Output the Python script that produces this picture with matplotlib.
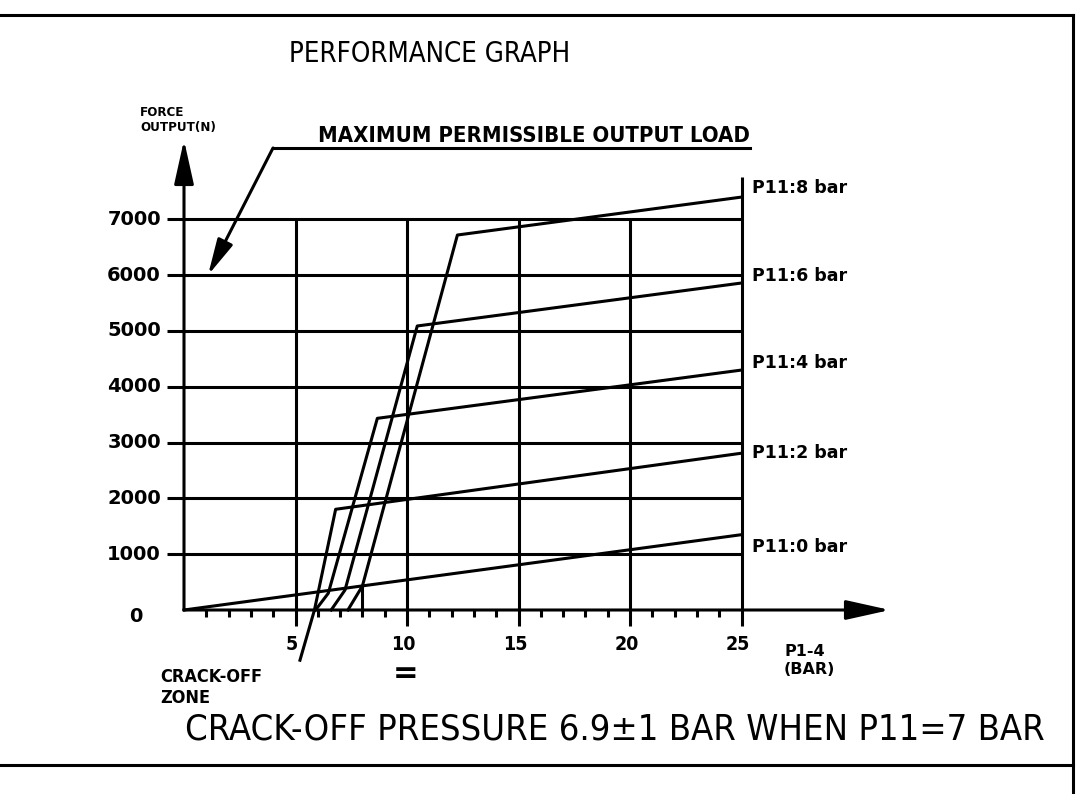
import matplotlib
matplotlib.use("Agg")
import matplotlib.pyplot as plt
import numpy as np

# values
pressure_ticks = [5, 10, 15, 20, 25]
force_ticks = [1000, 2000, 3000, 4000, 5000, 6000, 7000]
minor_ticks = [t for t in range(1, 25) if t % 5 != 0]

# P11 curves: x = P1-4 (bar), f = force output (N)
p0_x = [0, 25]
p0_f = [0, 1350]
p2_x = [5.2, 5.85, 6.8, 25]
p2_f = [-900, 0, 1805, 2810]
p4_x = [5.9, 6.47, 8.67, 25]
p4_f = [0, 300, 3435, 4300]
p6_x = [6.6, 7.22, 10.46, 25]
p6_f = [0, 358, 5090, 5860]
p8_x = [7.35, 8.0, 12.26, 25]
p8_f = [0, 430, 6720, 7400]
zone_end = 8.0

curve_labels = ["P11:0 bar", "P11:2 bar", "P11:4 bar", "P11:6 bar", "P11:8 bar"]
label_f = [1130, 2810, 4430, 5990, 7560]
max_load = 6000

# pixel layout of the drawing (origin of graph at 184,610)
X0, Y0 = 184, 610
SX, SY = 22.3, 55.8   # px per bar, px per 1000 N
W, H = 1079, 794


def px(x, y):
    return (x - X0) / SX, (Y0 - y) / SY * 1000


fig = plt.figure(figsize=(W / 100, H / 100), dpi=100)
ax = fig.add_axes([0, 0, 1, 1])
ax.set_xlim(px(0, 0)[0], px(W, 0)[0])
ax.set_ylim(px(0, H)[1], px(0, 0)[1])
ax.axis("off")

lw = 2.2
fam = ["DejaVu Sans"]

# frame of the drawing sheet
bx = [px(0, 0)[0], px(1073, 0)[0]]
ax.plot(bx, [px(0, 15)[1]] * 2, color="k", lw=lw)
ax.plot(bx, [px(0, 765)[1]] * 2, color="k", lw=lw)
ax.plot([bx[1]] * 2, [px(0, 15)[1], px(0, H)[1]], color="k", lw=lw)

# grid
tick_left = px(167, 0)[0]
ax.hlines(force_ticks, tick_left, 25, color="k", lw=lw)
below = px(0, 626)[1]
ax.vlines(pressure_ticks[:-1], below, 7000, color="k", lw=lw)
ax.vlines(25, below, px(0, 177)[1], color="k", lw=lw)
ax.vlines(minor_ticks, px(0, 617)[1], 0, color="k", lw=lw)

# axes with arrows
ax.annotate("", xy=(0, px(0, 140)[1]), xytext=(0, 0),
            arrowprops=dict(arrowstyle="-|>,head_length=27,head_width=6",
                            mutation_scale=1, lw=lw, color="k", shrinkA=0, shrinkB=0))
ax.annotate("", xy=(px(890, 0)[0], 0), xytext=(0, 0),
            arrowprops=dict(arrowstyle="-|>,head_length=27,head_width=6",
                            mutation_scale=1, lw=lw, color="k", shrinkA=0, shrinkB=0))

# curves
for xs, fs in [(p0_x, p0_f), (p2_x, p2_f), (p4_x, p4_f), (p6_x, p6_f), (p8_x, p8_f)]:
    ax.plot(xs, fs, color="k", lw=lw, solid_joinstyle="round")
ax.plot([zone_end, zone_end], [0, np.interp(zone_end, p0_x, p0_f)], color="k", lw=lw)

for lab, f in zip(curve_labels, label_f):
    ax.text(px(752, 0)[0], f, lab, ha="left", va="center", fontsize=12.5,
            fontweight="bold", family=fam)

# tick labels
for f in force_ticks:
    ax.text(px(161, 0)[0], f, str(f), ha="right", va="center", fontsize=14,
            fontweight="bold", family=fam)
ax.text(*px(136, 616), "0", ha="center", va="center", fontsize=14,
        fontweight="bold", family=fam)
for p in pressure_ticks:
    ax.text(p - 0.15, px(0, 644)[1], str(p), ha="center", va="center", fontsize=14,
            fontweight="bold", family=fam, fontstretch="condensed")

# max permissible load leader
hy = px(0, 148)[1]
ax.plot([px(273, 0)[0], px(750, 0)[0]], [hy, hy], color="k", lw=lw)
ax.annotate("", xy=(px(208, 0)[0], max_load), xytext=(px(273, 0)[0], hy),
            arrowprops=dict(arrowstyle="-|>,head_length=22,head_width=5",
                            mutation_scale=1, lw=lw, color="k", shrinkA=0, shrinkB=0))
ax.text(px(318, 0)[0], px(0, 146)[1], "MAXIMUM PERMISSIBLE OUTPUT LOAD",
        ha="left", va="bottom", fontsize=15.8, fontweight="bold", family=fam,
        fontstretch="condensed")

# text
ax.text(*px(430, 54), "PERFORMANCE GRAPH", ha="center", va="center",
        fontsize=19.8, family=fam, fontstretch="condensed")
ax.text(*px(140, 112), "FORCE", ha="left", va="center", fontsize=9.5,
        fontweight="bold", family=fam, fontstretch="condensed")
ax.text(*px(140, 128), "OUTPUT(N)", ha="left", va="center", fontsize=9.5,
        fontweight="bold", family=fam, fontstretch="condensed")
ax.text(*px(784, 652), "P1-4", ha="left", va="center", fontsize=11.5,
        fontweight="bold", family=fam)
ax.text(*px(784, 670), "(BAR)", ha="left", va="center", fontsize=11.5,
        fontweight="bold", family=fam)
ax.text(*px(160, 682), "CRACK-OFF", ha="left", va="baseline", fontsize=13,
        fontweight="bold", family=fam, fontstretch="condensed")
ax.text(*px(160, 703), "ZONE", ha="left", va="baseline", fontsize=13,
        fontweight="bold", family=fam, fontstretch="condensed")
ax.text(*px(406, 673), "=", ha="center", va="center", fontsize=22,
        fontweight="bold", family=fam)
ax.text(*px(185, 740), "CRACK-OFF PRESSURE 6.9\u00b11 BAR WHEN P11=7 BAR",
        ha="left", va="baseline", fontsize=26, family=fam, fontstretch="condensed")

fig.savefig("out.png", dpi=100)
